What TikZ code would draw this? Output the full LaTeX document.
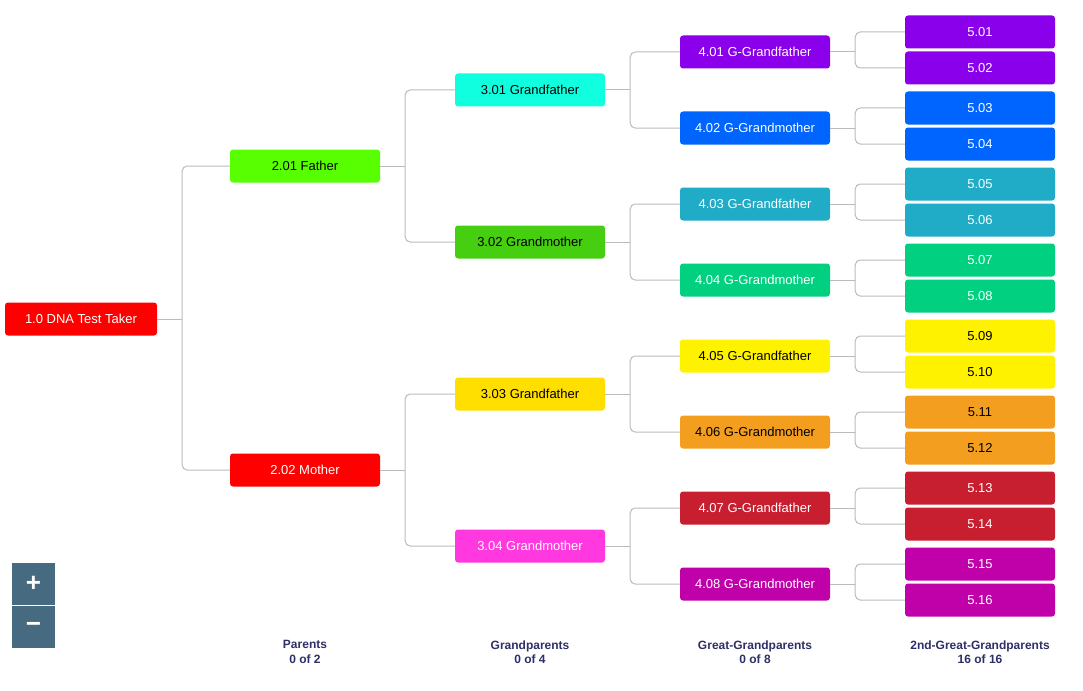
\documentclass[tikz,border=0pt]{standalone}
\usepackage{fontspec}
\setmainfont{Liberation Sans}
\definecolor{cRed}{HTML}{FF0000}
\definecolor{cLime}{HTML}{58FF00}
\definecolor{cAqua}{HTML}{10FFDF}
\definecolor{cGrass}{HTML}{46CF11}
\definecolor{cGold}{HTML}{FFDF00}
\definecolor{cPink}{HTML}{FF38E0}
\definecolor{cPurple}{HTML}{8A00EA}
\definecolor{cBlue}{HTML}{0064FF}
\definecolor{cTeal}{HTML}{20ACC6}
\definecolor{cMint}{HTML}{00D07F}
\definecolor{cYellow}{HTML}{FFF200}
\definecolor{cOrange}{HTML}{F49E1F}
\definecolor{cCrimson}{HTML}{C81F30}
\definecolor{cMagenta}{HTML}{C000A8}
\definecolor{linkgray}{HTML}{BBBBBB}
\definecolor{navy}{HTML}{2D2F66}
\definecolor{btn}{HTML}{466B80}
\begin{document}
\begin{tikzpicture}[x=1pt,y=-1pt,
    box/.style={rounded corners=3pt, minimum width=150pt, minimum height=33pt,
      inner sep=0pt, font=\fontsize{13}{15}\selectfont},
    link/.style={draw=linkgray, line width=1pt},
    gen/.style={font=\bfseries\fontsize{12}{14.5}\selectfont, text=navy, align=center},
    zoombtn/.style={fill=btn, minimum width=43pt, minimum height=42pt, inner sep=0pt,
      text=white, font=\bfseries\fontsize{26}{26}\selectfont},]
  \useasboundingbox (0,0) rectangle (1083,690);
  % generations 1 to 4
  \node[box, fill=cRed, text=white, minimum width=152pt] (a1) at (81,319) {1.0 DNA Test Taker};
  \node[box, fill=cLime] (a2) at (305,166) {2.01 Father};
  \node[box, fill=cRed, text=white] (a3) at (305,470) {2.02 Mother};
  \node[box, fill=cAqua] (a4) at (530,90) {3.01 Grandfather};
  \node[box, fill=cGrass] (a5) at (530,242) {3.02 Grandmother};
  \node[box, fill=cGold] (a6) at (530,394) {3.03 Grandfather};
  \node[box, fill=cPink, text=white] (a7) at (530,546) {3.04 Grandmother};
  \node[box, fill=cPurple, text=white] (a8) at (755,52) {4.01 G-Grandfather};
  \node[box, fill=cBlue, text=white] (a9) at (755,128) {4.02 G-Grandmother};
  \node[box, fill=cTeal, text=white] (a10) at (755,204) {4.03 G-Grandfather};
  \node[box, fill=cMint, text=white] (a11) at (755,280) {4.04 G-Grandmother};
  \node[box, fill=cYellow] (a12) at (755,356) {4.05 G-Grandfather};
  \node[box, fill=cOrange] (a13) at (755,432) {4.06 G-Grandmother};
  \node[box, fill=cCrimson, text=white] (a14) at (755,508) {4.07 G-Grandfather};
  \node[box, fill=cMagenta, text=white] (a15) at (755,584) {4.08 G-Grandmother};
  % generation 5
  \foreach \n/\c/\t in {16/cPurple/white, 17/cPurple/white, 18/cBlue/white, 19/cBlue/white,
      20/cTeal/white, 21/cTeal/white, 22/cMint/white, 23/cMint/white,
      24/cYellow/black, 25/cYellow/black, 26/cOrange/black, 27/cOrange/black,
      28/cCrimson/white, 29/cCrimson/white, 30/cMagenta/white, 31/cMagenta/white} {
    \pgfmathtruncatemacro\k{(\n-16)/2}
    \pgfmathtruncatemacro\r{mod(\n-16,2)}
    \pgfmathtruncatemacro\lab{\n-15}
    \node[box, fill=\c, text=\t] (a\n) at (980,{32+76*\k+36*\r}) {5.\ifnum\lab<10 0\fi\lab};
  }
  % parent to children
  \foreach \p in {1,...,15} {
    \pgfmathtruncatemacro\u{2*\p}
    \pgfmathtruncatemacro\v{2*\p+1}
    \coordinate (j\p) at ([xshift=25pt]a\p.east);
    \draw[link] (a\p.east) -- (j\p);
    \draw[link, rounded corners=5pt] (j\p) |- (a\u.west);
    \draw[link, rounded corners=5pt] (j\p) |- (a\v.west);
  }
  \node[gen] (g2) at (305,652) {Parents\\0 of 2};
  \node[gen] (g3) at (530,652) {Grandparents\\0 of 4};
  \node[gen] (g4) at (755,652) {Great-Grandparents\\0 of 8};
  \node[gen] (g5) at (980,652) {2nd-Great-Grandparents\\16 of 16};
  \node[zoombtn] (zin) at (33.5,583.5) {+};
  \node[zoombtn] (zout) at (33.5,627) {−};
\end{tikzpicture}
\end{document}
